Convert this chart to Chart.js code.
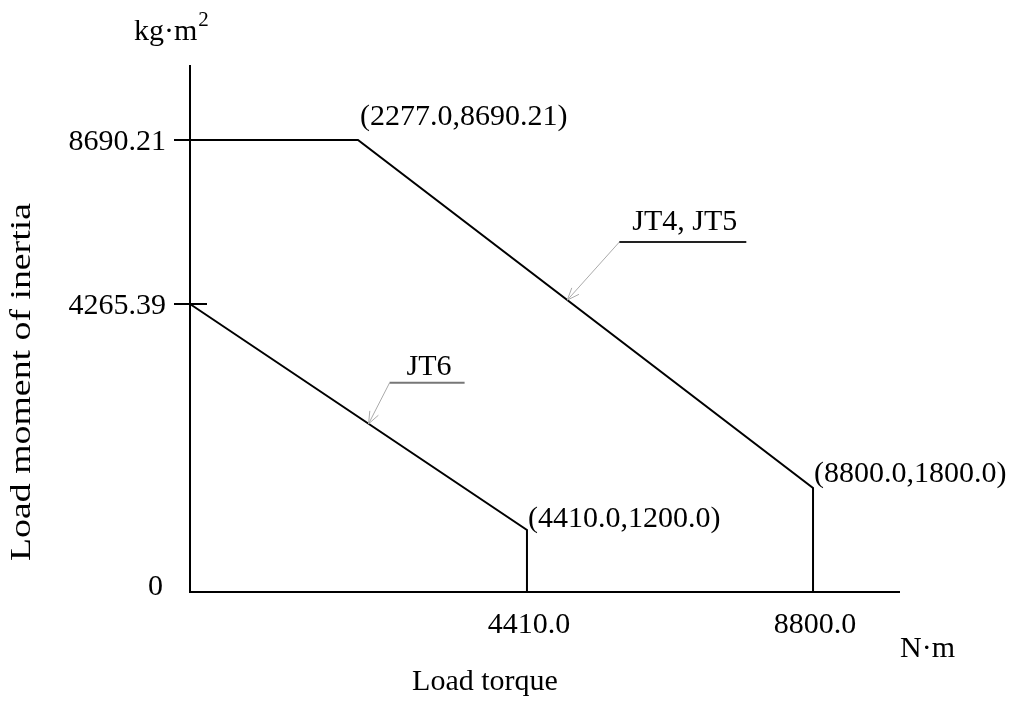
<!DOCTYPE html>
<html>
<head>
<meta charset="utf-8">
<title>Load moment of inertia vs load torque</title>
<script src="https://cdn.jsdelivr.net/npm/chart.js@4/dist/chart.umd.min.js"></script>
<style>
  html, body { margin: 0; padding: 0; background: #fff; }
</style>
</head>
<body>
<canvas id="grafico" width="1014" height="701"></canvas>
<script>
// valores
const jt45Torque = [0, 2277.0, 8800.0, 8800.0];
const jt45Inertia = [8690.21, 8690.21, 1800.0, 0];
const jt6Torque = [0, 4410.0, 4410.0];
const jt6Inertia = [4265.39, 1200.0, 0];
const torqueTicks = [4410.0, 8800.0];
const inertiaTicks = [0, 4265.39, 8690.21];
const seriesNames = ['JT4, JT5', 'JT6'];

// the figure is a sketch, not to scale: axes are piecewise linear through the labelled values
class PiecewiseScale extends Chart.LinearScale {
  toDecimal(v) {
    const k = this.options.knots;
    if (v <= k[0][0]) return k[0][1];
    for (let i = 1; i < k.length; i++) {
      if (v <= k[i][0]) {
        const t = (v - k[i - 1][0]) / (k[i][0] - k[i - 1][0]);
        return k[i - 1][1] + t * (k[i][1] - k[i - 1][1]);
      }
    }
    return k[k.length - 1][1];
  }
  getPixelForValue(v) {
    return this.getPixelForDecimal(this.toDecimal(v));
  }
  getValueForPixel(p) {
    const d = this.getDecimalForPixel(p);
    const k = this.options.knots;
    for (let i = 1; i < k.length; i++) {
      if (d <= k[i][1]) {
        const t = (d - k[i - 1][1]) / (k[i][1] - k[i - 1][1]);
        return k[i - 1][0] + t * (k[i][0] - k[i - 1][0]);
      }
    }
    return k[k.length - 1][0];
  }
}
PiecewiseScale.id = 'piecewise';
PiecewiseScale.defaults = Chart.LinearScale.defaults;
Chart.register(PiecewiseScale);

const fmt = v => Number.isInteger(v) ? v.toFixed(1) : String(v);
const FONT = '"Liberation Serif", "Times New Roman", serif';

const figureText = {
  id: 'figureText',
  afterDraw(chart) {
    const { ctx, chartArea: a, scales: { x, y } } = chart;
    ctx.save();

    // eixos
    ctx.strokeStyle = '#000';
    ctx.lineWidth = 2;
    ctx.beginPath();
    ctx.moveTo(a.left, a.top);
    ctx.lineTo(a.left, a.bottom);
    ctx.lineTo(a.right, a.bottom);
    ctx.stroke();

    ctx.fillStyle = '#000';
    ctx.font = '30px ' + FONT;

    // y ticks
    ctx.textAlign = 'right';
    ctx.textBaseline = 'middle';
    inertiaTicks.forEach(v => {
      const py = y.getPixelForValue(v);
      if (v !== 0) {
        ctx.beginPath();
        ctx.moveTo(a.left - 16, py);
        ctx.lineTo(a.left + 17, py);
        ctx.stroke();
        ctx.fillText(v.toFixed(2), a.left - 24, py + 2);
      } else {
        ctx.fillText('0', a.left - 27, py - 5);
      }
    });

    // x ticks
    ctx.textAlign = 'center';
    ctx.textBaseline = 'alphabetic';
    torqueTicks.forEach(v => {
      ctx.fillText(fmt(v), x.getPixelForValue(v) + 2, a.bottom + 41);
    });

    // unidades e títulos
    ctx.textAlign = 'left';
    ctx.fillText('N\u00b7m', a.right, a.bottom + 65);
    const unit = 'kg\u00b7m';
    ctx.fillText(unit, 134, 40);
    const w = ctx.measureText(unit).width;
    ctx.font = '21px ' + FONT;
    ctx.fillText('2', 134 + w + 1, 26);
    ctx.font = '30px ' + FONT;

    ctx.textAlign = 'center';
    ctx.fillText('Load torque', 485, 690);

    ctx.save();
    ctx.translate(22, 382);
    ctx.rotate(-Math.PI / 2);
    ctx.scale(1.26, 1);
    ctx.textBaseline = 'middle';
    ctx.fillText('Load moment of inertia', 0, 0);
    ctx.restore();

    // rótulos dos pontos
    const torques = [jt45Torque, jt6Torque];
    const inertias = [jt45Inertia, jt6Inertia];
    const labelled = [[0, 1, 2, -15], [0, 2, 1, -6], [1, 1, 1, -3]];
    ctx.textAlign = 'left';
    labelled.forEach(([ds, i, dx, dy]) => {
      const pt = chart.getDatasetMeta(ds).data[i];
      ctx.fillText('(' + fmt(torques[ds][i]) + ',' + fmt(inertias[ds][i]) + ')', pt.x + dx, pt.y + dy);
    });

    // chamadas com seta
    const callouts = [
      { ds: 0, seg: 1, t: 0.46, dx: 52, dy: -58, len: 127, gap: 12, under: '#222' },
      { ds: 1, seg: 0, t: 0.53, dx: 21, dy: -41, len: 75, gap: 8, under: '#777' }
    ];
    callouts.forEach(c => {
      const pts = chart.getDatasetMeta(c.ds).data;
      const p0 = pts[c.seg], p1 = pts[c.seg + 1];
      const tx = p0.x + c.t * (p1.x - p0.x);
      const ty = p0.y + c.t * (p1.y - p0.y);
      const ex = tx + c.dx, ey = ty + c.dy;

      ctx.strokeStyle = '#aaa';
      ctx.lineWidth = 1;
      ctx.beginPath();
      ctx.moveTo(ex, ey);
      ctx.lineTo(tx, ty);
      const ang = Math.atan2(ey - ty, ex - tx);
      [-0.38, 0.38].forEach(s => {
        ctx.moveTo(tx, ty);
        ctx.lineTo(tx + 13 * Math.cos(ang + s), ty + 13 * Math.sin(ang + s));
      });
      ctx.stroke();

      ctx.strokeStyle = c.under;
      ctx.lineWidth = 2;
      ctx.beginPath();
      ctx.moveTo(ex, ey);
      ctx.lineTo(ex + c.len, ey);
      ctx.stroke();

      ctx.textAlign = 'center';
      ctx.fillText(seriesNames[c.ds], ex + c.len / 2 + 2, ey - c.gap);
    });

    ctx.restore();
  }
};

new Chart(document.getElementById('grafico'), {
  type: 'line',
  data: {
    datasets: [
      {
        label: seriesNames[0],
        data: jt45Torque.map((t, i) => ({ x: t, y: jt45Inertia[i] })),
        borderColor: '#000',
        borderWidth: 2,
        pointRadius: 0,
        tension: 0,
        clip: false
      },
      {
        label: seriesNames[1],
        data: jt6Torque.map((t, i) => ({ x: t, y: jt6Inertia[i] })),
        borderColor: '#000',
        borderWidth: 2,
        pointRadius: 0,
        tension: 0,
        clip: false
      }
    ]
  },
  options: {
    responsive: false,
    animation: false,
    layout: { padding: { left: 190, top: 65, right: 114, bottom: 109 } },
    plugins: { legend: { display: false }, tooltip: { enabled: false } },
    scales: {
      x: {
        type: 'piecewise', min: 0, max: 10000, display: false,
        knots: [[0, 0], [2277, 0.2366], [4410, 0.4746], [8800, 0.8775], [10000, 1]]
      },
      y: {
        type: 'piecewise', min: 0, max: 10000, display: false,
        knots: [[0, 0], [1200, 0.1176], [1800, 0.1973], [4265.39, 0.5465], [8690.21, 0.8577], [10000, 1]]
      }
    }
  },
  plugins: [figureText]
});
</script>
</body>
</html>
